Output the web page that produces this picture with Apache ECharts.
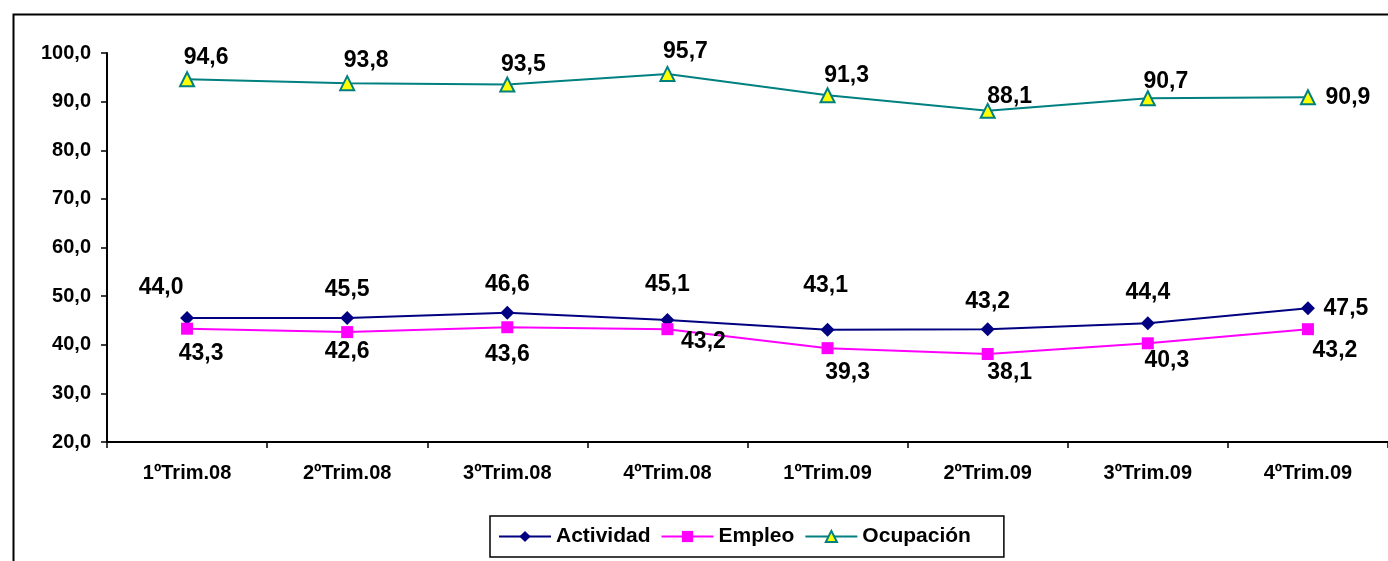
<!DOCTYPE html>
<html>
<head>
<meta charset="utf-8">
<script src="https://cdn.jsdelivr.net/npm/echarts@6/dist/echarts.min.js"></script>
<style>
  html, body { margin: 0; padding: 0; background: #fff; }
  #chart { width: 1388px; height: 561px; }
</style>
</head>
<body>
<div id="chart"></div>
<script>
var categories = ['1ºTrim.08', '2ºTrim.08', '3ºTrim.08', '4ºTrim.08', '1ºTrim.09', '2ºTrim.09', '3ºTrim.09', '4ºTrim.09'];
// valores dibujados (el primer punto de Actividad aparece en 45,5 aunque la etiqueta dice 44,0)
var actividad = [45.5, 45.5, 46.6, 45.1, 43.1, 43.2, 44.4, 47.5];
var actividadLabels = [44.0, 45.5, 46.6, 45.1, 43.1, 43.2, 44.4, 47.5];
var empleo = [43.3, 42.6, 43.6, 43.2, 39.3, 38.1, 40.3, 43.2];
var ocupacion = [94.6, 93.8, 93.5, 95.7, 91.3, 88.1, 90.7, 90.9];
var yTicks = [20, 30, 40, 50, 60, 70, 80, 90, 100];

// desplazamientos de etiquetas (como en el grafico de Excel)
var offAct = [[-26, -30], [0, -28], [0, -28], [0, -35], [-2, -44], [0, -28], [0, -31], [38, 0]];
var offEmp = [[14, 25], [0, 20], [0, 27], [36, 12], [20, 25], [22, 19], [19, 17], [27, 21]];
var offOcu = [[19, -22], [19, -22], [16, -20], [18, -22], [19, -20], [22, -14], [18, -17], [40, 0]];

function fmt(v) {
  return v.toFixed(1).replace('.', ',');
}

function buildData(values, labels, offsets) {
  return values.map(function (v, i) {
    return {
      value: v,
      label: { offset: offsets[i], formatter: fmt(labels[i]) }
    };
  });
}

var labelStyle = {
  show: true,
  position: 'inside',
  fontFamily: 'Liberation Sans',
  fontWeight: 'bold',
  fontSize: 23,
  color: '#000'
};

var myChart = echarts.init(document.getElementById('chart'));
var option = {
  animation: false,
  textStyle: { fontFamily: 'Liberation Sans' },
  graphic: [{
    type: 'rect',
    left: 11, top: 12,
    shape: { width: 1400, height: 600 },
    style: { fill: 'none', stroke: '#000', lineWidth: 2 },
    silent: true
  }],
  grid: {
    left: 107,
    right: -6,
    top: 53,
    bottom: 119,
    containLabel: false
  },
  legend: {
    left: 490,
    top: 516,
    itemWidth: 52,
    itemHeight: 14,
    itemGap: 10,
    padding: [10, 33, 10, 8],
    borderColor: '#000',
    borderWidth: 1.5,
    textStyle: { fontFamily: 'Liberation Sans', fontWeight: 'bold', fontSize: 21, color: '#000' },
    data: ['Actividad', 'Empleo', 'Ocupación']
  },
  xAxis: {
    type: 'category',
    data: categories,
    boundaryGap: true,
    axisLine: { lineStyle: { color: '#000', width: 2 } },
    axisTick: { show: true, length: 6, lineStyle: { color: '#000', width: 1.5 } },
    axisLabel: {
      color: '#000', fontWeight: 'bold', fontSize: 20, margin: 21, interval: 0,
      fontFamily: 'Liberation Sans'
    },
    splitLine: { show: false }
  },
  yAxis: {
    type: 'value',
    min: yTicks[0],
    max: yTicks[yTicks.length - 1],
    interval: 10,
    axisLine: { show: true, lineStyle: { color: '#000', width: 2 } },
    axisTick: { show: true, length: 6, lineStyle: { color: '#000', width: 1.5 } },
    axisLabel: {
      color: '#000', fontWeight: 'bold', fontSize: 20, margin: 16,
      fontFamily: 'Liberation Sans',
      formatter: function (v) { return fmt(v); }
    },
    splitLine: { show: false }
  },
  series: [{
    name: 'Actividad',
    type: 'line',
    data: buildData(actividad, actividadLabels, offAct),
    symbol: 'diamond',
    symbolSize: 14,
    itemStyle: { color: '#000080' },
    lineStyle: { color: '#000080', width: 2 },
    label: labelStyle
  }, {
    name: 'Empleo',
    type: 'line',
    data: buildData(empleo, empleo, offEmp),
    symbol: 'rect',
    symbolSize: 12,
    itemStyle: { color: '#ff00ff' },
    lineStyle: { color: '#ff00ff', width: 2 },
    label: labelStyle
  }, {
    name: 'Ocupación',
    type: 'line',
    data: buildData(ocupacion, ocupacion, offOcu),
    symbol: 'triangle',
    symbolSize: 14,
    itemStyle: { color: '#ffff00', borderColor: '#008080', borderWidth: 2 },
    lineStyle: { color: '#008080', width: 2 },
    label: labelStyle
  }]
};
myChart.setOption(option);
</script>
</body>
</html>
